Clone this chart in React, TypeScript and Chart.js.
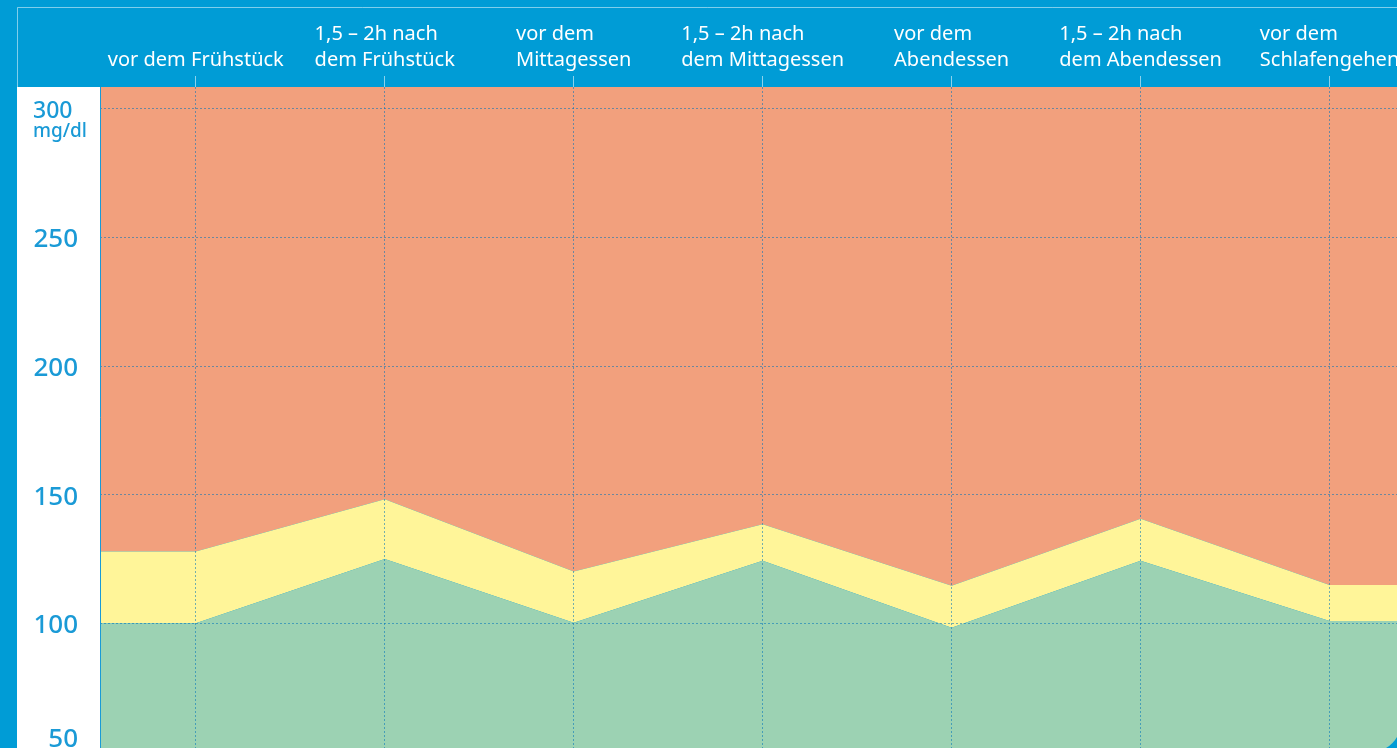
import React, { useEffect, useRef } from "react";
import { Chart, registerables } from "chart.js";

Chart.register(...registerables);

// ---- data ----
const categories: string[][] = [
  ["vor dem Frühstück"],
  ["1,5 – 2h nach", "dem Frühstück"],
  ["vor dem", "Mittagessen"],
  ["1,5 – 2h nach", "dem Mittagessen"],
  ["vor dem", "Abendessen"],
  ["1,5 – 2h nach", "dem Abendessen"],
  ["vor dem", "Schlafengehen"],
];
// upper edge of the green (normal) zone, mg/dl
const lowerLimit = [100, 125, 100.2, 124.3, 98.3, 124.3, 100.9];
// upper edge of the yellow zone, mg/dl
const upperLimit = [127.9, 148.2, 120.1, 138.5, 114.6, 140.6, 114.9];
const yTickValues = [50, 100, 150, 200, 250, 300];
const yUnit = "mg/dl";

const X_MIN = -0.507;
const X_MAX = 6.357;
const Y_MIN = 51.5;
const Y_MAX = 308.5;

const BLUE = "#009CD6";
const LABEL_BLUE = "#1A9AD6";
const GREEN = "#9CD2B3";
const YELLOW = "#FFF599";
const RED = "#F2A07D";
const GRID = "rgba(0,115,185,0.55)";
const FONT = '"Noto Sans", "Open Sans", sans-serif';

function toPoints(arr: number[]) {
  return [
    { x: X_MIN, y: arr[0] },
    ...arr.map((v, i) => ({ x: i, y: v })),
    { x: X_MAX, y: arr[arr.length - 1] },
  ];
}

const framePlugin = {
  id: "frame",
  beforeDraw(chart: any) {
    const { ctx, width, height, chartArea } = chart;
    ctx.save();
    ctx.fillStyle = BLUE;
    ctx.fillRect(0, 0, width, height);
    ctx.fillStyle = "#FFFFFF";
    ctx.fillRect(17, chartArea.top, chartArea.left - 17, height - chartArea.top);
    ctx.strokeStyle = "rgba(255,255,255,0.5)";
    ctx.lineWidth = 1;
    ctx.beginPath();
    ctx.moveTo(17.5, chartArea.top);
    ctx.lineTo(17.5, 7.5);
    ctx.lineTo(width, 7.5);
    ctx.stroke();
    ctx.restore();
  },
  afterDraw(chart: any) {
    const { ctx, width, height, chartArea, scales } = chart;
    const xs = scales.x;
    const ys = scales.y;
    ctx.save();
    ctx.setLineDash([]);
    // plot left border
    ctx.strokeStyle = LABEL_BLUE;
    ctx.lineWidth = 1;
    ctx.beginPath();
    ctx.moveTo(chartArea.left + 0.5, chartArea.top);
    ctx.lineTo(chartArea.left + 0.5, height);
    ctx.stroke();
    // rounded corner bottom-right
    ctx.fillStyle = BLUE;
    ctx.beginPath();
    ctx.moveTo(width - 11, height);
    ctx.quadraticCurveTo(width - 4, height - 4, width, height - 11);
    ctx.lineTo(width, height);
    ctx.closePath();
    ctx.fill();

    // header category labels (lines left-aligned inside a centred block)
    ctx.fillStyle = "#FFFFFF";
    ctx.font = `20px ${FONT}`;
    ctx.textAlign = "left";
    ctx.textBaseline = "alphabetic";
    categories.forEach((lines, i) => {
      const cx = xs.getPixelForValue(i);
      const w = Math.max(...lines.map((l) => ctx.measureText(l).width));
      const left = cx - w / 2;
      const lastBase = 66;
      lines.forEach((l, j) => {
        const base = lastBase - (lines.length - 1 - j) * 26.5;
        ctx.fillText(l, left, base);
      });
    });

    // y labels
    ctx.fillStyle = LABEL_BLUE;
    yTickValues.forEach((v) => {
      const y = ys.getPixelForValue(v);
      if (v === yTickValues[yTickValues.length - 1]) {
        ctx.textAlign = "left";
        ctx.font = `500 23px ${FONT}`;
        ctx.fillText(String(v), 33, y + 9);
        ctx.font = `500 19px ${FONT}`;
        ctx.fillText(yUnit, 33, y + 28.5);
      } else {
        ctx.textAlign = "right";
        ctx.font = `500 26px ${FONT}`;
        const base = Math.min(y + 10, height - 1);
        ctx.fillText(String(v), 78, base);
      }
    });
    ctx.restore();
  },
};

export default function App() {
  const ref = useRef<HTMLCanvasElement | null>(null);

  useEffect(() => {
    document.body.style.margin = "0";
    const canvas = ref.current;
    if (!canvas) return;
    const chart = new Chart(canvas, {
      type: "line",
      data: {
        datasets: [
          {
            label: "normal",
            data: toPoints(lowerLimit),
            backgroundColor: GREEN,
            borderColor: "transparent",
            borderWidth: 0,
            pointRadius: 0,
            fill: "start",
            tension: 0,
          },
          {
            label: "erhöht",
            data: toPoints(upperLimit),
            backgroundColor: YELLOW,
            borderColor: "transparent",
            borderWidth: 0,
            pointRadius: 0,
            fill: "-1",
            tension: 0,
          },
          {
            label: "hoch",
            data: toPoints(upperLimit),
            backgroundColor: RED,
            borderColor: "transparent",
            borderWidth: 0,
            pointRadius: 0,
            fill: "end",
            tension: 0,
          },
        ],
      },
      options: {
        animation: false,
        responsive: false,
        maintainAspectRatio: false,
        devicePixelRatio: 1,
        layout: { padding: 0 },
        plugins: {
          legend: { display: false },
          tooltip: { enabled: false },
        },
        scales: {
          x: {
            type: "linear",
            position: "top",
            min: X_MIN,
            max: X_MAX,
            z: 1,
            afterFit: (s: any) => {
              s.height = 87;
            },
            ticks: { display: false, stepSize: 1, includeBounds: false },
            grid: {
              z: 1,
              color: GRID,
              lineWidth: 1,
              drawTicks: true,
              tickLength: 11,
              tickColor: "rgba(255,255,255,0.55)",
              tickBorderDash: [],
            },
            border: { display: false, dash: [2, 2] },
          },
          y: {
            type: "linear",
            min: Y_MIN,
            max: Y_MAX,
            z: 1,
            afterFit: (s: any) => {
              s.width = 100;
            },
            ticks: { display: false, stepSize: 50, includeBounds: false },
            grid: { z: 1, color: GRID, lineWidth: 1, drawTicks: false },
            border: { display: false, dash: [2, 2] },
          },
        },
      },
      plugins: [framePlugin],
    });
    return () => chart.destroy();
  }, []);

  return (
    <div style={{ position: "fixed", left: 0, top: 0, width: 1397, height: 748 }}>
      <canvas ref={ref} width={1397} height={748} style={{ width: 1397, height: 748, display: "block" }} />
    </div>
  );
}
